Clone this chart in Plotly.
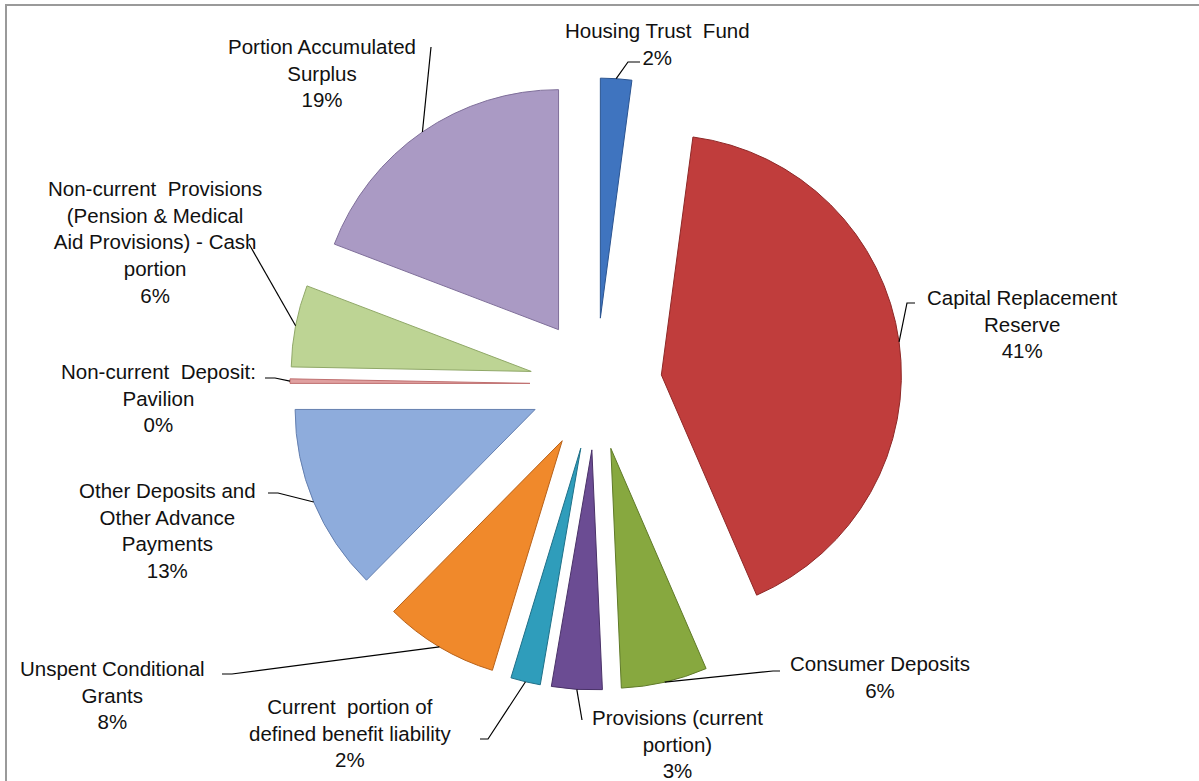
import math
import plotly.graph_objects as go

# ---------------- data ----------------
categories = [
    "Housing Trust Fund",
    "Capital Replacement Reserve",
    "Consumer Deposits",
    "Provisions (current portion)",
    "Current portion of defined benefit liability",
    "Unspent Conditional Grants",
    "Other Deposits and Other Advance Payments",
    "Non-current Deposit: Pavilion",
    "Non-current Provisions (Pension & Medical Aid Provisions) - Cash portion",
    "Portion Accumulated Surplus",
]
values = [2.1, 41.4, 5.8, 3.4, 2.0, 7.7, 12.6, 0.3, 5.5, 19.2]
label_text = [
    "Housing Trust  Fund",
    "Capital Replacement<br>Reserve",
    "Consumer Deposits",
    "Provisions (current<br>portion)",
    "Current  portion of<br>defined benefit liability",
    "Unspent Conditional<br>Grants",
    "Other Deposits and<br>Other Advance<br>Payments",
    "Non-current  Deposit:<br>Pavilion",
    "Non-current  Provisions<br>(Pension & Medical<br>Aid Provisions) - Cash<br>portion",
    "Portion Accumulated<br>Surplus",
]

# ---------------- styles / layout ----------------
colors = ["#3f74bf", "#c03d3c", "#87a83f", "#6b4c93", "#2f9dbb",
          "#f0892b", "#8eacdc", "#e0a0a0", "#bdd494", "#aa9ac4"]
edge_colors = ["#2b5490", "#8e2827", "#5f7a28", "#4a3268", "#1f7088",
               "#b8621a", "#6580b0", "#c07070", "#90a868", "#7f6f9a"]

W, H = 1199, 781
CX, CY = 596, 384          # pie centre, px
PULL = 0.275
R = 240                    # pie radius, px
BOX = 2 * R * (1 + PULL)

# label centres (px) and leader-line elbow points (px)
label_pos = [(657, 44), (1022, 324), (880, 677), (677, 744), (350, 733),
             (112, 695), (168, 530), (158, 398), (155, 242), (322, 73)]
elbows = [
    [(628, 62), (640, 62)],
    [(907, 303), (915, 303)],
    [(773, 671), (780, 671)],
    [(582, 720)],
    [(488, 739), (480, 739)],
    [(232, 674), (222, 674)],
    [(278, 493), (268, 493)],
    [(275, 378), (265, 378)],
    [(249, 244)],
    [(431, 47)],
]


def px(x):
    return x / W


def py(y):
    return 1 - y / H


fig = go.Figure()
fig.add_trace(go.Pie(
    labels=categories,
    values=values,
    sort=False,
    direction="clockwise",
    rotation=0,
    pull=[PULL] * len(values),
    marker=dict(colors=colors, line=dict(color=edge_colors, width=1)),
    textinfo="none",
    hoverinfo="label+percent",
    showlegend=False,
    domain=dict(x=[px(CX - BOX / 2), px(CX + BOX / 2)],
                y=[py(CY + BOX / 2), py(CY - BOX / 2)]),
))

total = sum(values)
annotations = []
shapes = []
cum = 0.0
for i, v in enumerate(values):
    mid = (cum + v / 2) / total * 2 * math.pi
    cum += v
    d = R * (1 + PULL)
    ax = CX + d * math.sin(mid)
    ay = CY - d * math.cos(mid)
    pts = [(ax, ay)] + elbows[i]
    path = "M " + " L ".join(f"{px(x):.5f},{py(y):.5f}" for x, y in pts)
    shapes.append(dict(type="path", path=path, xref="paper", yref="paper",
                       line=dict(color="#000000", width=1.2)))
    pct = round(v / total * 100)
    lx, ly = label_pos[i]
    annotations.append(dict(
        x=px(lx), y=py(ly), xref="paper", yref="paper",
        text=f"{label_text[i]}<br>{pct}%", showarrow=False,
        xanchor="center", yanchor="middle", align="center",
        font=dict(family="Liberation Sans, Arial, sans-serif", size=20.5, color="#111111"),
    ))

# chart frame
shapes.append(dict(type="rect", xref="paper", yref="paper",
                   x0=px(6), y0=py(5), x1=1.02, y1=-0.02,
                   line=dict(color="#9a9a9a", width=2), layer="below"))

fig.update_layout(
    width=W, height=H,
    margin=dict(l=0, r=0, t=0, b=0),
    paper_bgcolor="white",
    plot_bgcolor="white",
    annotations=annotations,
    shapes=shapes,
)

fig.write_html("out.html", config={"displayModeBar": False},
               post_script="document.body.style.margin='0';")
